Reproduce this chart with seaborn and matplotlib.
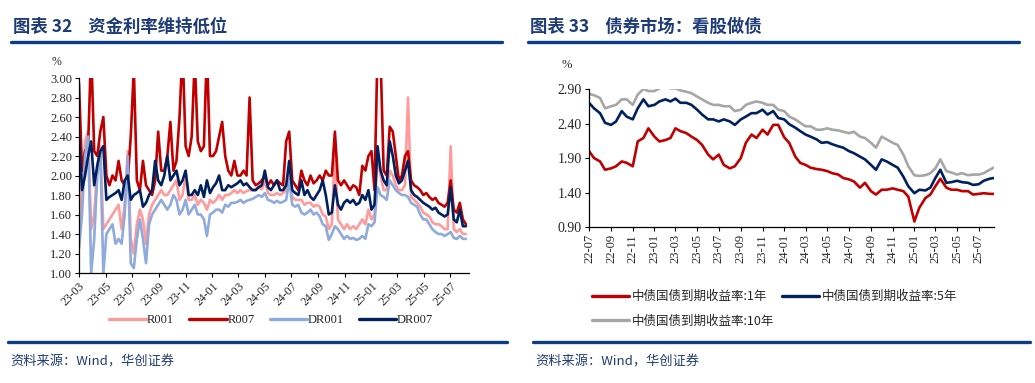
import pandas as pd
import matplotlib
matplotlib.use("Agg")
import matplotlib.pyplot as plt
import matplotlib.dates as mdates
from matplotlib.lines import Line2D
from matplotlib.ticker import MultipleLocator, FormatStrFormatter
import seaborn as sns

# ---- left chart: money market rates, weekly readings from 2023-03-01 ----
left_start = "2023-03-01"
r001 = [1.40, 1.90, 2.35, 2.45, 1.45, 1.60, 2.10, 2.30, 1.45, 1.50,
        1.55, 1.60, 1.65, 1.70, 1.45, 1.70, 2.25, 1.35, 1.20, 1.50,
        1.65, 1.55, 1.30, 1.60, 1.70, 1.75, 1.80, 1.85, 1.80, 1.80,
        1.85, 1.90, 1.95, 1.75, 1.80, 2.00, 1.75, 1.75, 1.80, 1.70,
        1.75, 1.72, 1.65, 1.75, 1.72, 1.75, 1.80, 1.75, 1.80, 1.80,
        1.82, 1.85, 1.82, 1.85, 1.82, 1.84, 1.85, 1.85, 1.86, 1.88,
        1.86, 1.95, 1.82, 1.80, 1.80, 1.82, 1.80, 1.82, 1.85, 2.05,
        1.78, 1.75, 1.75, 1.75, 1.70, 1.72, 1.72, 1.68, 1.70, 1.68,
        1.60, 1.58, 1.45, 1.50, 2.30, 1.55, 1.50, 1.45, 1.50, 1.45,
        1.48, 1.45, 1.50, 1.55, 1.50, 1.65, 1.55, 1.60, 2.20, 2.00,
        1.85, 1.85, 2.05, 2.00, 1.90, 1.85, 1.85, 1.90, 2.80, 1.78,
        1.75, 1.72, 1.68, 1.62, 1.60, 1.58, 1.52, 1.50, 1.50, 1.48,
        1.45, 1.45, 2.30, 1.45, 1.42, 1.45, 1.40, 1.40]
r007 = [2.95, 2.05, 2.25, 2.30, 3.30, 2.25, 2.20, 2.45, 2.60, 2.00,
        1.90, 2.00, 1.95, 2.15, 1.95, 1.90, 1.95, 2.40, 3.10, 1.95,
        1.85, 2.15, 1.90, 1.85, 1.80, 1.95, 2.45, 2.05, 2.05, 2.20,
        2.55, 2.05, 2.15, 2.60, 3.30, 2.30, 2.20, 2.40, 3.20, 2.35,
        2.25, 2.30, 3.30, 2.20, 2.20, 2.25, 2.40, 2.55, 2.20, 2.05,
        2.00, 2.15, 2.00, 2.00, 2.05, 2.00, 2.80, 1.95, 1.90, 1.92,
        1.95, 2.00, 1.90, 1.95, 1.90, 1.95, 1.92, 1.90, 2.35, 2.45,
        1.95, 1.90, 1.85, 2.05, 1.95, 1.90, 2.00, 1.92, 1.95, 2.00,
        1.95, 2.05, 2.00, 2.00, 2.45, 1.95, 1.90, 1.95, 1.90, 1.85,
        1.90, 1.88, 1.80, 2.10, 2.05, 2.20, 2.25, 1.85, 3.30, 3.20,
        2.05, 2.00, 2.50, 2.45, 2.20, 1.95, 2.00, 2.20, 2.25, 1.95,
        1.90, 1.88, 1.85, 1.80, 1.82, 1.78, 1.75, 1.77, 1.72, 1.70,
        1.68, 1.72, 1.95, 1.65, 1.62, 1.72, 1.55, 1.50]
dr001 = [1.25, 1.60, 2.20, 2.40, 1.00, 1.35, 2.00, 2.25, 1.00, 1.40,
         1.45, 1.50, 1.30, 1.35, 1.30, 1.60, 2.20, 1.10, 1.05, 1.35,
         1.55, 1.35, 1.10, 1.50, 1.60, 1.65, 1.70, 1.75, 1.70, 1.65,
         1.70, 1.80, 1.75, 1.60, 1.65, 1.75, 1.60, 1.65, 1.70, 1.60,
         1.60, 1.55, 1.38, 1.60, 1.62, 1.65, 1.65, 1.62, 1.70, 1.68,
         1.72, 1.72, 1.73, 1.75, 1.72, 1.74, 1.75, 1.76, 1.78, 1.80,
         1.78, 1.82, 1.75, 1.74, 1.72, 1.74, 1.72, 1.73, 1.75, 1.95,
         1.70, 1.68, 1.70, 1.62, 1.60, 1.62, 1.65, 1.60, 1.62, 1.58,
         1.50, 1.48, 1.34, 1.40, 1.48, 1.45, 1.40, 1.35, 1.38, 1.35,
         1.36, 1.34, 1.35, 1.38, 1.35, 1.50, 1.48, 1.52, 1.88, 1.80,
         1.78, 1.75, 1.95, 1.90, 1.85, 1.82, 1.80, 1.80, 1.78, 1.72,
         1.70, 1.68, 1.60, 1.55, 1.55, 1.50, 1.45, 1.42, 1.40, 1.40,
         1.38, 1.40, 1.42, 1.36, 1.35, 1.38, 1.35, 1.35]
dr007 = [2.42, 1.85, 2.00, 2.20, 2.35, 1.90, 2.10, 2.25, 2.30, 1.75,
         1.78, 1.80, 1.82, 1.85, 1.75, 1.95, 2.00, 1.75, 1.80, 1.82,
         1.85, 1.68, 1.72, 1.80, 1.85, 2.15, 1.95, 1.90, 2.00, 2.20,
         1.95, 2.00, 2.05, 1.90, 1.95, 2.05, 1.80, 1.80, 1.85, 1.80,
         1.90, 1.78, 1.95, 1.82, 1.88, 1.92, 2.00, 1.85, 1.85, 1.90,
         1.88, 1.90, 1.92, 1.95, 1.90, 1.92, 1.88, 1.85, 1.85, 1.88,
         1.90, 2.05, 1.88, 1.85, 1.90, 1.95, 1.85, 1.85, 1.90, 2.15,
         1.85, 1.82, 1.80, 1.95, 1.80, 1.85, 1.78, 1.75, 1.80, 1.85,
         1.95, 1.80, 1.60, 1.62, 1.90, 1.70, 1.65, 1.72, 1.75, 1.72,
         1.75, 1.70, 1.72, 1.80, 1.75, 1.85, 1.65, 1.70, 2.30, 2.05,
         1.95, 1.90, 2.35, 2.20, 2.00, 1.92, 1.95, 2.05, 2.15, 1.85,
         1.80, 1.78, 1.75, 1.72, 1.70, 1.68, 1.65, 1.67, 1.62, 1.60,
         1.58, 1.60, 1.88, 1.55, 1.52, 1.65, 1.48, 1.48]
left_names = ["R001", "R007", "DR001", "DR007"]
left_colors = ["#FF9B9B", "#C00000", "#8FAADC", "#002060"]
left_yticks = [1.0, 1.2, 1.4, 1.6, 1.8, 2.0, 2.2, 2.4, 2.6, 2.8, 3.0]

# ---- right chart: CGB yields, readings on the 1st and 15th from 2022-07 ----
right_start = "2022-07-01"
right_last = "2025-08-12"
y1 = [2.00, 1.90, 1.85, 1.73, 1.75, 1.78, 1.85, 1.83, 1.78, 2.14, 2.19, 2.33,
      2.21, 2.14, 2.16, 2.19, 2.33, 2.29, 2.26, 2.21, 2.16, 2.09, 1.95, 1.88,
      1.95, 1.80, 1.75, 1.78, 1.90, 2.12, 2.24, 2.19, 2.31, 2.24, 2.38, 2.38,
      2.20, 2.12, 1.92, 1.83, 1.80, 1.76, 1.74, 1.73, 1.71, 1.68, 1.66, 1.61,
      1.59, 1.56, 1.47, 1.54, 1.42, 1.37, 1.44, 1.44, 1.46, 1.44, 1.42, 1.34,
      0.98, 1.18, 1.32, 1.37, 1.49, 1.60, 1.47, 1.44, 1.44, 1.42, 1.42, 1.37,
      1.38, 1.39, 1.38, 1.38]
y5 = [2.70, 2.62, 2.55, 2.41, 2.38, 2.43, 2.58, 2.50, 2.46, 2.62, 2.75, 2.65,
      2.67, 2.72, 2.75, 2.72, 2.76, 2.70, 2.70, 2.67, 2.60, 2.53, 2.46, 2.46,
      2.43, 2.46, 2.43, 2.38, 2.46, 2.50, 2.55, 2.55, 2.60, 2.53, 2.58, 2.48,
      2.46, 2.39, 2.34, 2.29, 2.24, 2.21, 2.17, 2.12, 2.13, 2.10, 2.07, 2.05,
      2.00, 1.97, 1.92, 1.88, 1.80, 1.73, 1.88, 1.85, 1.80, 1.76, 1.63, 1.49,
      1.39, 1.44, 1.43, 1.47, 1.61, 1.73, 1.54, 1.55, 1.57, 1.55, 1.54, 1.51,
      1.52, 1.57, 1.60, 1.61]
y10 = [2.83, 2.81, 2.77, 2.62, 2.65, 2.67, 2.75, 2.75, 2.67, 2.82, 2.90, 2.87,
       2.87, 2.91, 2.94, 2.91, 2.91, 2.88, 2.86, 2.84, 2.79, 2.75, 2.70, 2.67,
       2.67, 2.65, 2.65, 2.58, 2.60, 2.67, 2.70, 2.72, 2.70, 2.67, 2.67, 2.60,
       2.58, 2.50, 2.46, 2.41, 2.36, 2.36, 2.31, 2.31, 2.33, 2.31, 2.30, 2.28,
       2.26, 2.28, 2.21, 2.19, 2.12, 2.05, 2.21, 2.17, 2.12, 2.09, 1.95, 1.78,
       1.65, 1.64, 1.65, 1.68, 1.75, 1.88, 1.71, 1.69, 1.66, 1.68, 1.65, 1.66,
       1.66, 1.68, 1.73, 1.76]
right_names = ["中债国债到期收益率:1年", "中债国债到期收益率:5年", "中债国债到期收益率:10年"]
right_colors = ["#C00000", "#002060", "#A6A6A6"]
right_yticks = [0.90, 1.40, 1.90, 2.40, 2.90]

title_left = "图表 32    资金利率维持低位"
title_right = "图表 33    债券市场：看股做债"
source = "资料来源：Wind，华创证券"

sns.set_style("white")
plt.rcParams["font.family"] = ["Liberation Serif", "Noto Sans CJK SC"]
plt.rcParams["axes.unicode_minus"] = False

BLUE = "#0A3D85"
TITLE_C = "#1F3C78"
CJK = ["Noto Sans CJK SC", "DejaVu Sans"]

fig = plt.figure(figsize=(10.35, 3.83), dpi=100)

# ---------- left ----------
ax1 = fig.add_axes([0.0763, 0.2872, 0.3768, 0.5091])
left_dates = pd.date_range(left_start, periods=len(r001), freq="7D")
for vals, name, col in zip([r001, r007, dr001, dr007], left_names, left_colors):
    sns.lineplot(x=left_dates, y=vals, ax=ax1, color=col, lw=1.9, label=name)
ax1.set_ylim(1.0, 3.0)
ax1.set_xlim(pd.Timestamp("2023-03-01"), pd.Timestamp("2025-08-13"))
ax1.set_yticks(left_yticks)
ax1.yaxis.set_major_formatter(FormatStrFormatter("%.2f"))
ax1.xaxis.set_major_locator(mdates.MonthLocator(bymonth=[1, 3, 5, 7, 9, 11]))
ax1.xaxis.set_major_formatter(mdates.DateFormatter("%y-%m"))
plt.setp(ax1.get_xticklabels(), rotation=45, ha="right", rotation_mode="anchor")
if ax1.get_legend():
    ax1.get_legend().remove()

# ---------- right ----------
ax2 = fig.add_axes([0.5691, 0.4073, 0.3913, 0.3603])
right_dates = list(pd.date_range(right_start, "2025-08-01", freq="SMS")) + [pd.Timestamp(right_last)]
for vals, name, col in zip([y1, y5, y10], right_names, right_colors):
    sns.lineplot(x=right_dates, y=vals, ax=ax2, color=col, lw=1.9, label=name)
ax2.set_ylim(0.9, 2.9)
ax2.set_xlim(pd.Timestamp("2022-07-01"), pd.Timestamp("2025-08-13"))
ax2.set_yticks(right_yticks)
ax2.yaxis.set_major_formatter(FormatStrFormatter("%.2f"))
ax2.xaxis.set_major_locator(mdates.MonthLocator(bymonth=[1, 3, 5, 7, 9, 11]))
ax2.xaxis.set_major_formatter(mdates.DateFormatter("%y-%m"))
plt.setp(ax2.get_xticklabels(), rotation=90, ha="center")
if ax2.get_legend():
    ax2.get_legend().remove()

for ax in [ax1, ax2]:
    sns.despine(ax=ax)
    ax.spines["left"].set_color("black")
    ax.spines["bottom"].set_color("black")
    ax.spines["left"].set_linewidth(0.9)
    ax.spines["bottom"].set_linewidth(0.9)
    ax.tick_params(axis="both", which="major", direction="out", length=3,
                   width=0.8, color="black", labelsize=9, pad=2,
                   left=True, bottom=True)
    ax.set_xlabel("")
    ax.set_ylabel("")
ax1.tick_params(axis="x", labelsize=8.5)
ax2.tick_params(axis="y", labelsize=10)
ax2.tick_params(axis="x", labelsize=9)

fig.text(52 / 1035, 1 - 62 / 383, "%", fontsize=8.5, va="center")
fig.text(562 / 1035, 1 - 65 / 383, "%", fontsize=9, va="center")

# legends
fig.legend([Line2D([], [], color=c, lw=2.4) for c in left_colors], left_names,
           loc="center", bbox_to_anchor=(0.262, 1 - 320 / 383), ncol=4,
           frameon=False, fontsize=9, handlelength=3.0,
           columnspacing=1.2, handletextpad=0.05)
# two columns: 1Y and 10Y in the first column, 5Y beside 1Y
order = [0, 2, 1]
fig.legend([Line2D([], [], color=right_colors[i], lw=2.4) for i in order],
           [right_names[i] for i in order],
           loc="upper left", bbox_to_anchor=(0.561, 1 - 279 / 383), ncol=2,
           frameon=False, prop={"family": CJK, "size": 9}, handlelength=3.0,
           columnspacing=0.6, handletextpad=0.2, labelspacing=0.9)

# titles, rules, source
fig.text(13 / 1035, 1 - 27 / 383, title_left, fontsize=12.5, fontweight="bold",
         color=TITLE_C, family=CJK, va="center")
fig.text(530 / 1035, 1 - 27 / 383, title_right, fontsize=12.5, fontweight="bold",
         color=TITLE_C, family=CJK, va="center")
for x0, x1, y in [(11, 502, 42), (528, 1019, 42), (8, 507, 342), (533, 1030, 342)]:
    fig.add_artist(Line2D([x0 / 1035, x1 / 1035], [1 - y / 383, 1 - y / 383],
                          transform=fig.transFigure, color=BLUE, lw=2.4))
fig.text(10 / 1035, 1 - 362 / 383, source, fontsize=9.5, style="italic",
         color=TITLE_C, family=CJK, va="center")
fig.text(535 / 1035, 1 - 362 / 383, source, fontsize=9.5, style="italic",
         color=TITLE_C, family=CJK, va="center")

fig.savefig("out.png", dpi=100)
